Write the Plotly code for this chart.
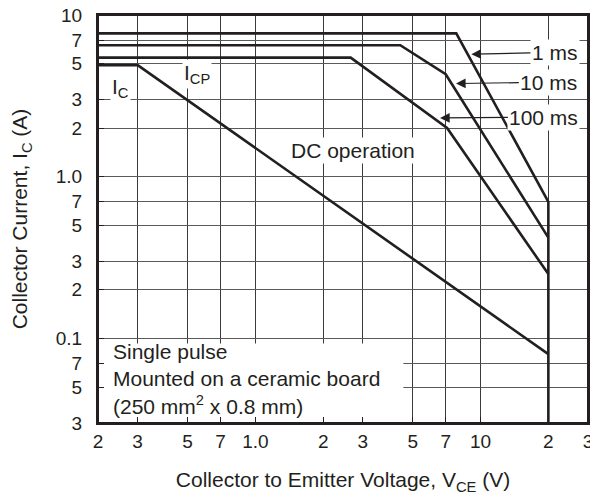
import math

import plotly.graph_objects as go

# safe operating area, collector current vs collector-emitter voltage
v_1ms = [0.2, 7.8, 20, 20]
i_1ms = [7.7, 7.7, 0.7, 0.03]

v_10ms = [0.2, 4.4, 7.0, 20]
i_10ms = [6.5, 6.5, 4.3, 0.42]

v_100ms = [0.2, 2.65, 7.1, 20]
i_100ms = [5.45, 5.45, 2.0, 0.25]

v_dc = [0.2, 0.3, 20]
i_dc = [4.9, 4.9, 0.08]

x_ticks = [0.2, 0.3, 0.5, 0.7, 1, 2, 3, 5, 7, 10, 20, 30]
x_labels = ["2", "3", "5", "7", "1.0", "2", "3", "5", "7", "10", "2", "3"]
y_ticks = [0.03, 0.05, 0.07, 0.1, 0.2, 0.3, 0.5, 0.7, 1, 2, 3, 5, 7, 10]
y_labels = ["3", "5", "7", "0.1", "2", "3", "5", "7", "1.0", "2", "3", "5", "7", "10"]

INK = "#231f20"
FONT = "Liberation Sans, Arial, sans-serif"
lg = math.log10  # annotations on log axes are placed in log10 units

fig = go.Figure()

for v, i in [(v_1ms, i_1ms), (v_10ms, i_10ms), (v_100ms, i_100ms), (v_dc, i_dc)]:
    fig.add_trace(
        go.Scatter(
            x=v,
            y=i,
            mode="lines",
            line=dict(color=INK, width=2.6),
            showlegend=False,
            hoverinfo="skip",
        )
    )

# white panel behind the note in the lower left corner
fig.add_shape(
    type="rect",
    xref="x",
    yref="y",
    x0=0.2,
    x1=4.54,
    y0=0.03,
    y1=0.093,
    fillcolor="white",
    line=dict(width=0),
    layer="between",
)

# frame round the plot area
fig.add_shape(
    type="rect",
    xref="paper",
    yref="paper",
    x0=0,
    x1=1,
    y0=0,
    y1=1,
    line=dict(color=INK, width=2),
    layer="above",
)

label_font = dict(family=FONT, size=21, color=INK)

# plain labels
for text, x, y in [
    ("I<sub>C</sub>", 0.253, 3.55),
    ("I<sub>CP</sub>", 0.55, 4.3),
    ("DC operation", 2.71, 1.46),
]:
    fig.add_annotation(
        x=lg(x), y=lg(y), xref="x", yref="y", text=text, showarrow=False,
        font=label_font, bgcolor="white", borderpad=1,
    )

# pulse width labels with arrows
for text, tx, ty, px, py in [
    ("1 ms", 21.4, 5.89, 9.1, 5.72),
    ("10 ms", 20.1, 3.84, 7.78, 3.77),
    ("100 ms", 19.1, 2.34, 6.61, 2.31),
]:
    fig.add_annotation(
        x=lg(px), y=lg(py), ax=lg(tx), ay=lg(ty),
        xref="x", yref="y", axref="x", ayref="y",
        text=text, showarrow=True, arrowhead=2, arrowsize=1.6, arrowwidth=1.2,
        arrowcolor=INK, font=label_font, bgcolor="white", borderpad=1,
    )

fig.add_annotation(
    x=lg(0.228), y=lg(0.1), xref="x", yref="y", xanchor="left", yanchor="top",
    align="left", showarrow=False, font=label_font,
    text="Single pulse<br>Mounted on a ceramic board<br>(250 mm<sup>2</sup> x 0.8 mm)",
)

fig.update_xaxes(
    type="log",
    range=[-0.69897, 1.4771],
    tickvals=x_ticks,
    ticktext=x_labels,
    ticks="inside",
    ticklen=6,
    tickcolor=INK,
    showgrid=True,
    gridcolor="#3a3a3a",
    gridwidth=1,
    showline=True,
    mirror=True,
    linecolor=INK,
    linewidth=2,
    zeroline=False,
    automargin=False,
    ticklabeloverflow="allow",
    tickfont=dict(family=FONT, size=19, color=INK),
    title=dict(
        text="Collector to Emitter Voltage, V<sub>CE</sub> (V)",
        font=dict(family=FONT, size=21, color=INK),
        standoff=22,
    ),
)
fig.update_yaxes(
    type="log",
    range=[-1.5229, 1.0],
    tickvals=y_ticks,
    ticktext=y_labels,
    ticks="inside",
    ticklen=6,
    tickcolor=INK,
    showgrid=True,
    gridcolor="#5a5a5a",
    gridwidth=1,
    showline=True,
    mirror=True,
    linecolor=INK,
    linewidth=2,
    zeroline=False,
    automargin=False,
    ticklabeloverflow="allow",
    ticklabelstandoff=10,
    tickfont=dict(family=FONT, size=19, color=INK),
    title=dict(
        text="Collector Current, I<sub>C</sub> (A)",
        font=dict(family=FONT, size=21, color=INK),
        standoff=22,
    ),
)

# the page body has an 8px margin, so the figure is drawn 8px smaller
fig.update_layout(
    width=590,
    height=495,
    margin=dict(l=90, r=10, t=7, b=80),
    plot_bgcolor="white",
    paper_bgcolor="white",
)

fig.write_html("out.html")
